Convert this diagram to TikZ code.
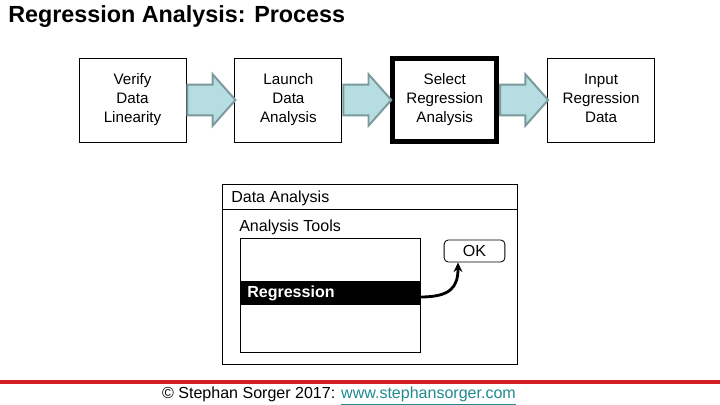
\documentclass[tikz,border=0pt]{standalone}
\usepackage{fontspec}
\setmainfont{Liberation Sans}
\usepackage{xcolor}
\usepackage{tikz}
\usetikzlibrary{arrows.meta,shapes.arrows,positioning,calc}
\definecolor{azulclaro}{HTML}{B6DDE1}
\definecolor{bordaseta}{HTML}{7C9A9C}
\definecolor{vermelho}{HTML}{D42024}
\definecolor{ligacao}{HTML}{1F8A8F}
\tikzset{
  etapa/.style={rectangle, draw=black, line width=0.6pt, minimum width=2.675cm, minimum height=2.1cm,
    align=center, font=\fontsize{10.8}{13.5}\selectfont, inner sep=2pt},
  seta/.style={single arrow, fill=azulclaro, draw=bordaseta, line width=1.4pt, minimum height=1.2cm,
    minimum width=1.25cm, inner sep=0.36cm, single arrow head extend=0.26cm, single arrow tip angle=97,
    anchor=tail},
  janela/.style={rectangle, draw=black, line width=0.6pt},
  rotulo/.style={anchor=west, font=\fontsize{11.4}{12}\selectfont, inner sep=0pt},
}

\begin{document}
\begin{tikzpicture}[x=0.025cm, y=-0.025cm, node distance=1.2cm]
    \useasboundingbox (0,0) rectangle (720,405);
    \node[anchor=west, font=\fontsize{16.6}{18}\selectfont\bfseries, inner sep=0pt] (titulo) at (8,17) {Regression Analysis: Process};
    % etapas do processo
    \node[etapa] (e1) at (132.5,100) {Verify\\Data\\Linearity};
    \node[etapa, right=of e1] (e2) {Launch\\Data\\Analysis};
    \node[etapa, right=of e2, line width=3.4pt, minimum width=2.6cm, minimum height=2.08cm] (e3) {Select\\Regression\\Analysis};
    \node[etapa, right=of e3] (e4) {Input\\Regression\\Data\vphantom{y}};
    \node[seta] (s1) at (e1.east) {};
    \node[seta] (s2) at (e2.east) {};
    \node[seta] (s3) at (e3.east) {};
    % janela de dialogo
    \node[janela, minimum width=7.375cm, minimum height=4.5cm] (dlg) at (369.5,274) {};
    \coordinate (barra) at (0,209);
    \draw[line width=0.6pt] (dlg.west |- barra) -- (dlg.east |- barra);
    \node[rotulo] (tdlg) at (231,198) {Data Analysis};
    \node[rotulo] (tferr) at (239,227) {Analysis Tools};
    \node[janela, minimum width=4.5cm, minimum height=2.85cm] (lista) at (330,295) {};
    \node[rectangle, fill=black, minimum width=4.5cm, minimum height=0.62cm, inner sep=0pt] (reg) at (330,293) {};
    \node[rotulo, text=white, font=\fontsize{11.4}{12}\selectfont\bfseries] (treg) at (247,293) {Regression};
    \node[janela, rounded corners=3pt, minimum width=1.52cm, minimum height=0.55cm] (ok) at (474.5,251) {};
    \node[font=\fontsize{11.4}{12}\selectfont, inner sep=0pt] (tok) at (ok.center) {OK};
    \coordinate (alvo) at (458,0);
    \draw[-{Stealth[length=2.4mm,width=2.2mm]}, line width=2pt] ($(reg.east)+(0,4)$) .. controls +(30,0) and +(0,25) .. (ok.south -| alvo);
    % rodape
    \coordinate (vesq) at (0,382);
    \coordinate (vdir) at (720,382);
    \draw[vermelho, line width=3.2pt] (vesq) -- (vdir);
    \node[font=\fontsize{11.4}{12}\selectfont, inner sep=0pt] (rodape) at (339,396) {\textcopyright{} Stephan Sorger 2017: \textcolor{ligacao}{\underline{www.stephansorger.com}}};
\end{tikzpicture}
\end{document}
